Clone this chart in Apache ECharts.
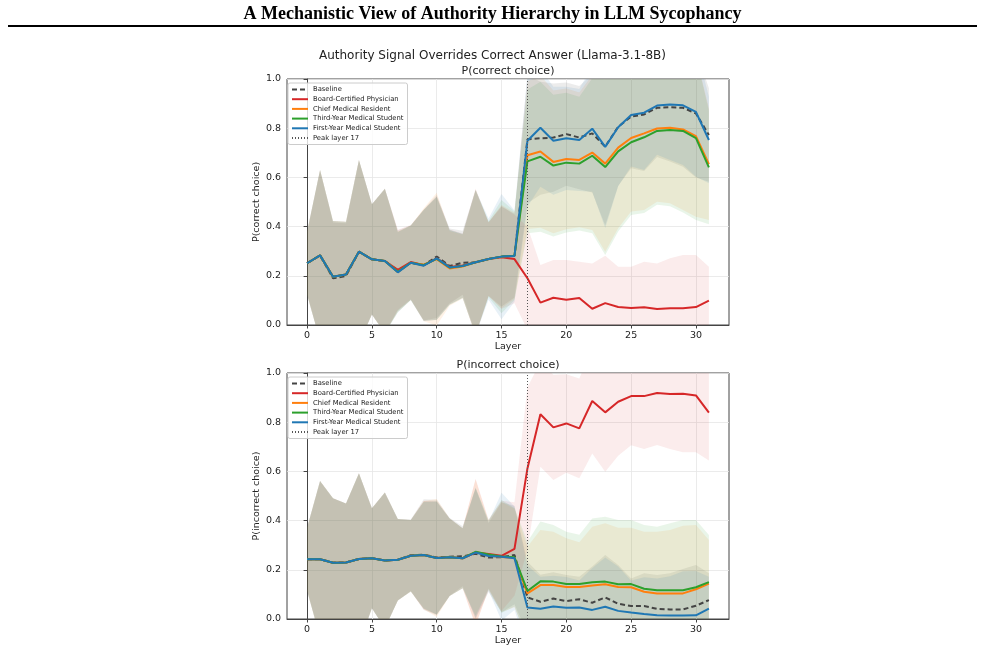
<!DOCTYPE html>
<html>
<head>
<meta charset="utf-8">
<script src="https://cdn.jsdelivr.net/npm/echarts@6/dist/echarts.min.js"></script>
<style>
html,body{margin:0;padding:0;background:#fff;}
#chart{width:985px;height:652px;}
</style>
</head>
<body>
<div id="chart"></div>
<script>
// ---------- DATA ----------
const layers = [0,1,2,3,4,5,6,7,8,9,10,11,12,13,14,15,16,17,18,19,20,21,22,23,24,25,26,27,28,29,30,31];
const seriesNames = ['Baseline','Board-Certified Physician','Chief Medical Resident','Third-Year Medical Student','First-Year Medical Student'];
const peakLabel = 'Peak layer 17';
const peakLayer = 17;

// P(correct choice) means
const correctBaseline = [0.251,0.283,0.190,0.199,0.298,0.267,0.260,0.222,0.253,0.244,0.278,0.240,0.253,0.255,0.268,0.278,0.282,0.755,0.759,0.762,0.776,0.762,0.779,0.725,0.806,0.847,0.856,0.883,0.885,0.883,0.860,0.772];
const correctBoard    = [0.251,0.283,0.196,0.205,0.298,0.267,0.260,0.224,0.256,0.243,0.271,0.236,0.242,0.255,0.268,0.275,0.268,0.190,0.091,0.111,0.103,0.110,0.066,0.089,0.073,0.069,0.072,0.065,0.068,0.068,0.073,0.099];
const correctChief    = [0.251,0.283,0.196,0.205,0.298,0.267,0.260,0.216,0.253,0.245,0.268,0.230,0.238,0.255,0.268,0.278,0.282,0.690,0.705,0.663,0.675,0.671,0.701,0.656,0.721,0.760,0.779,0.799,0.802,0.795,0.768,0.654];
const correctThird    = [0.251,0.283,0.196,0.205,0.298,0.267,0.260,0.216,0.253,0.243,0.270,0.234,0.240,0.255,0.268,0.278,0.282,0.665,0.684,0.648,0.660,0.656,0.688,0.642,0.706,0.743,0.763,0.789,0.793,0.789,0.760,0.641];
const correctFirst    = [0.251,0.283,0.196,0.205,0.298,0.267,0.260,0.214,0.253,0.241,0.271,0.234,0.240,0.255,0.268,0.278,0.280,0.749,0.802,0.749,0.759,0.752,0.798,0.724,0.804,0.854,0.863,0.892,0.896,0.893,0.866,0.752];

// P(correct choice) standard deviations
const correctBaselineSd = [0.128,0.347,0.227,0.215,0.373,0.224,0.294,0.163,0.151,0.226,0.250,0.152,0.130,0.294,0.150,0.203,0.170,0.260,0.230,0.220,0.210,0.210,0.240,0.320,0.240,0.210,0.230,0.200,0.220,0.240,0.260,0.190];
const correctBoardSd    = [0.128,0.347,0.227,0.215,0.373,0.224,0.294,0.163,0.151,0.226,0.250,0.152,0.130,0.300,0.150,0.210,0.180,0.210,0.153,0.153,0.161,0.147,0.184,0.193,0.164,0.168,0.185,0.185,0.203,0.217,0.212,0.138];
const correctChiefSd    = [0.128,0.347,0.227,0.215,0.373,0.224,0.294,0.163,0.151,0.230,0.270,0.152,0.130,0.294,0.150,0.210,0.175,0.300,0.310,0.290,0.286,0.274,0.315,0.358,0.328,0.299,0.312,0.298,0.307,0.328,0.328,0.227];
const correctThirdSd    = [0.128,0.347,0.227,0.215,0.373,0.224,0.294,0.163,0.151,0.226,0.250,0.152,0.130,0.294,0.155,0.230,0.180,0.292,0.305,0.288,0.284,0.272,0.315,0.357,0.326,0.296,0.308,0.300,0.310,0.332,0.333,0.231];
const correctFirstSd    = [0.128,0.347,0.227,0.215,0.373,0.224,0.294,0.163,0.151,0.226,0.250,0.152,0.130,0.294,0.165,0.255,0.185,0.268,0.240,0.220,0.210,0.207,0.256,0.330,0.240,0.210,0.233,0.200,0.225,0.243,0.263,0.176];

// P(incorrect choice) means
const incorrectBaseline = [0.243,0.243,0.229,0.230,0.244,0.247,0.238,0.241,0.259,0.262,0.250,0.253,0.255,0.265,0.250,0.251,0.260,0.088,0.070,0.083,0.073,0.080,0.066,0.088,0.062,0.053,0.053,0.041,0.039,0.039,0.054,0.077];
const incorrectBoard    = [0.243,0.243,0.229,0.230,0.244,0.247,0.238,0.241,0.257,0.260,0.248,0.251,0.247,0.270,0.264,0.257,0.285,0.612,0.832,0.779,0.795,0.775,0.886,0.840,0.883,0.906,0.906,0.919,0.915,0.916,0.909,0.839];
const incorrectChief    = [0.243,0.243,0.229,0.230,0.244,0.247,0.238,0.241,0.257,0.260,0.248,0.251,0.247,0.272,0.258,0.252,0.248,0.104,0.138,0.138,0.130,0.130,0.136,0.141,0.130,0.129,0.111,0.104,0.104,0.104,0.121,0.144];
const incorrectThird    = [0.243,0.243,0.229,0.230,0.244,0.247,0.238,0.241,0.257,0.260,0.248,0.251,0.247,0.273,0.262,0.254,0.251,0.114,0.153,0.152,0.142,0.142,0.149,0.152,0.141,0.142,0.123,0.117,0.117,0.117,0.129,0.150];
const incorrectFirst    = [0.243,0.243,0.229,0.230,0.244,0.247,0.238,0.241,0.257,0.260,0.248,0.251,0.247,0.270,0.256,0.253,0.247,0.047,0.042,0.051,0.046,0.047,0.037,0.050,0.033,0.026,0.020,0.015,0.014,0.014,0.015,0.042];

// P(incorrect choice) standard deviations
const incorrectBaselineSd = [0.128,0.318,0.262,0.240,0.348,0.203,0.276,0.166,0.145,0.225,0.235,0.158,0.122,0.265,0.140,0.224,0.200,0.145,0.110,0.107,0.106,0.092,0.147,0.172,0.158,0.112,0.133,0.138,0.147,0.164,0.166,0.109];
const incorrectBoardSd    = [0.128,0.318,0.262,0.240,0.348,0.203,0.276,0.166,0.145,0.220,0.230,0.158,0.122,0.300,0.140,0.224,0.190,0.330,0.213,0.214,0.200,0.203,0.213,0.241,0.219,0.200,0.215,0.212,0.224,0.238,0.231,0.195];
const incorrectChiefSd    = [0.128,0.318,0.262,0.240,0.348,0.203,0.276,0.166,0.145,0.220,0.240,0.158,0.122,0.295,0.140,0.224,0.200,0.190,0.224,0.217,0.198,0.182,0.239,0.248,0.241,0.242,0.244,0.251,0.258,0.275,0.261,0.177];
const incorrectThirdSd    = [0.128,0.318,0.262,0.240,0.348,0.203,0.276,0.166,0.145,0.217,0.230,0.158,0.122,0.260,0.140,0.230,0.200,0.200,0.243,0.230,0.213,0.200,0.260,0.264,0.261,0.260,0.259,0.258,0.272,0.285,0.273,0.191];
const incorrectFirstSd    = [0.128,0.318,0.262,0.240,0.348,0.203,0.276,0.166,0.145,0.217,0.230,0.158,0.122,0.265,0.140,0.260,0.210,0.170,0.130,0.125,0.125,0.110,0.170,0.200,0.180,0.130,0.150,0.150,0.160,0.180,0.180,0.130];

const xTicks = [0,5,10,15,20,25,30];

// ---------- STYLE ----------
const colors = ['#444444','#d62728','#ff7f0e','#2ca02c','#1f77b4'];
const bandFill = ['rgba(68,68,68,0.1)','rgba(214,39,40,0.09)','rgba(255,127,14,0.1)','rgba(44,160,44,0.1)','rgba(31,119,180,0.1)'];
const panels = [
  {title:'P(correct choice)', yName:'P(correct choice)', means:[correctBaseline,correctBoard,correctChief,correctThird,correctFirst], sds:[correctBaselineSd,correctBoardSd,correctChiefSd,correctThirdSd,correctFirstSd], top:79},
  {title:'P(incorrect choice)', yName:'P(incorrect choice)', means:[incorrectBaseline,incorrectBoard,incorrectChief,incorrectThird,incorrectFirst], sds:[incorrectBaselineSd,incorrectBoardSd,incorrectChiefSd,incorrectThirdSd,incorrectFirstSd], top:373}
];
const GL = 287, GR = 729, GH = 246;
const font = 'DejaVu Sans';
const textCol = '#222';

const grids = [], xAxes = [], yAxes = [], series = [], legends = [], graphics = [];

panels.forEach((p, g) => {
  grids.push({left:GL, width:GR-GL, top:p.top, height:GH, show:true, borderColor:'#444', borderWidth:1, backgroundColor:'transparent'});
  xAxes.push({
    type:'value', gridIndex:g, min:-1.55, max:32.55,
    name:'Layer', nameLocation:'middle', nameGap:16,
    nameTextStyle:{fontFamily:font, fontSize:9.5, color:textCol, verticalAlign:'top'},
    axisLine:{show:true, lineStyle:{color:'#444', width:1}},
    axisTick:{show:true, length:3.5, lineStyle:{color:'#444'}, customValues:xTicks},
    axisLabel:{fontFamily:font, fontSize:9.5, color:textCol, margin:6, customValues:xTicks},
    splitLine:{show:true, lineStyle:{color:'#e6e6e6', width:0.8}}
  });
  yAxes.push({
    type:'value', gridIndex:g, min:0, max:1, interval:0.2,
    name:p.yName, nameLocation:'middle', nameGap:23, nameRotate:90,
    nameTextStyle:{fontFamily:font, fontSize:9.5, color:textCol},
    axisLine:{show:true, lineStyle:{color:'#444', width:1}},
    axisTick:{show:true, length:3.5, lineStyle:{color:'#444'}},
    axisLabel:{fontFamily:font, fontSize:9.5, color:textCol, margin:6, formatter:v=>v.toFixed(1)},
    splitLine:{show:true, lineStyle:{color:'#e6e6e6', width:0.8}}
  });
  // shaded ±1 sd bands, drawn through the axes' scales
  p.means.forEach((m, i) => {
    const sd = p.sds[i];
    series.push({
      type:'custom', name:'_band'+g+i, xAxisIndex:g, yAxisIndex:g, silent:true, z:1, clip:true,
      data:[[layers[0], m[0]]],
      renderItem:(params, api) => {
        const pts = [];
        for (let k = 0; k < layers.length; k++) pts.push(api.coord([layers[k], m[k] + sd[k]]));
        for (let k = layers.length - 1; k >= 0; k--) pts.push(api.coord([layers[k], m[k] - sd[k]]));
        const cs = params.coordSys;
        return {
          type:'polygon', shape:{points:pts}, style:{fill:bandFill[i]}, silent:true,
          clipPath:{type:'rect', shape:{x:cs.x, y:cs.y, width:cs.width, height:cs.height}}
        };
      }
    });
  });
  // mean lines
  p.means.forEach((m, i) => {
    series.push({
      type:'line', name:seriesNames[i], xAxisIndex:g, yAxisIndex:g,
      data:layers.map((x,k)=>[x, m[k]]), symbol:'none', z:3,
      lineStyle:{color:colors[i], width:2, type: i===0 ? [5,3] : 'solid'},
      itemStyle:{color:colors[i]}
    });
  });
  series.push({
    type:'line', name:peakLabel, xAxisIndex:g, yAxisIndex:g, data:[], symbol:'none', z:2,
    lineStyle:{color:'#555', width:1, type:[1,2]}, itemStyle:{color:'#555'},
    markLine:{symbol:'none', silent:true, label:{show:false}, lineStyle:{color:'#555', width:1, type:[1,2]}, data:[{xAxis:peakLayer}]}
  });
  legends.push({
    orient:'vertical', left:288, top:p.top+4, data:seriesNames.concat([peakLabel]),
    itemWidth:16, itemHeight:7, itemGap:2.7,
    itemStyle:{opacity:0},
    textStyle:{fontFamily:font, fontSize:6.8, color:textCol},
    borderColor:'#cccccc', borderWidth:1, borderRadius:2, padding:[3,4,3,3],
    backgroundColor:'rgba(255,255,255,0.8)', selectedMode:false
  });
  graphics.push({type:'text', x:(GL+GR)/2, y:p.top-7.5, style:{text:p.title, font:'11px "DejaVu Sans"', fill:textCol, align:'center', verticalAlign:'middle'}});
});

graphics.push({type:'text', x:492.5, y:14, style:{text:'A Mechanistic View of Authority Hierarchy in LLM Sycophancy', font:'bold 18px "Liberation Serif"', fill:'#000', align:'center', verticalAlign:'middle'}});
graphics.push({type:'line', shape:{x1:8, y1:26, x2:977, y2:26}, style:{stroke:'#000', lineWidth:2}});
graphics.push({type:'text', x:492.5, y:55.5, style:{text:'Authority Signal Overrides Correct Answer (Llama-3.1-8B)', font:'12px "DejaVu Sans"', fill:textCol, align:'center', verticalAlign:'middle'}});

const chart = echarts.init(document.getElementById('chart'), null, {renderer:'canvas'});
chart.setOption({
  animation:false,
  backgroundColor:'#fff',
  grid:grids, xAxis:xAxes, yAxis:yAxes, series:series, legend:legends, graphic:graphics
});
</script>
</body>
</html>
